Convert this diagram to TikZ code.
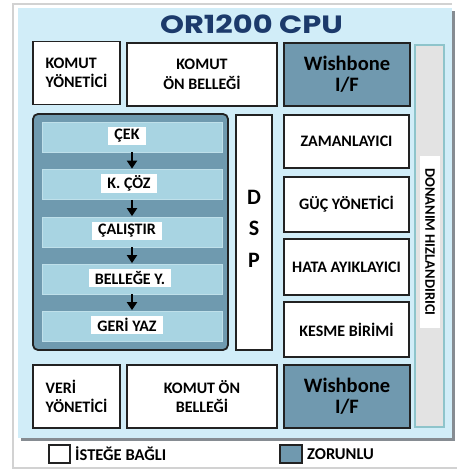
\documentclass[tikz,border=0pt]{standalone}
\usepackage{fontspec}
\setmainfont{Carlito}
\newfontfamily\titlefont{Poppins}
\usetikzlibrary{arrows.meta}
\definecolor{panelc}{HTML}{D1EDF8}
\definecolor{shadowc}{HTML}{868C92}
\definecolor{framec}{HTML}{D2D2D2}
\definecolor{reqc}{HTML}{7099AF}
\definecolor{contc}{HTML}{6F9AAF}
\definecolor{stagec}{HTML}{A8D4E2}
\definecolor{stageline}{HTML}{BFE0EA}
\definecolor{barc}{HTML}{E3E3E3}
\definecolor{barline}{HTML}{8EC4CB}
\definecolor{titlec}{HTML}{1C3A6B}
\definecolor{boxline}{HTML}{222222}
\begin{document}
\begin{tikzpicture}[x=1pt,y=-1pt,
  wbox/.style={draw=boxline, line width=1.8pt, fill=white, align=center, inner sep=0pt,
    font=\fontsize{16}{19.5}\selectfont\bfseries},
  rbox/.style={wbox, fill=reqc, font=\fontsize{20.5}{21}\selectfont\bfseries},
  stagebox/.style={draw=stageline, line width=0.8pt, fill=stagec, minimum width=180pt, minimum height=30pt, inner sep=0pt},
  slabel/.style={fill=white, inner xsep=6pt, inner ysep=0pt, minimum height=18pt,
    font=\fontsize{16}{16}\selectfont\bfseries},
  arr/.style={-{Triangle[width=10pt,length=8pt]}, line width=2.8pt, black, shorten >=0.5pt},
  legtext/.style={anchor=west, inner sep=0pt, font=\fontsize{16.5}{16}\selectfont\bfseries}
]
\useasboundingbox (0,0) rectangle (457,470);
\fill[white] (0,0) rectangle (457,470);
% outer frame
\draw[framec, line width=1.5pt] (452,4) -- (13,4) -- (13,468) -- (457,468);
% panel with shadow
\fill[shadowc] (21,11) rectangle (455,441);
\fill[panelc] (18,8) rectangle (452,438);
% title
\node[text=titlec, inner sep=0pt, font=\fontsize{25}{28}\selectfont\titlefont\bfseries] (title) at (251.5,24) {\scalebox{1.22}[1]{OR1200 CPU}};
% row 1
\node[wbox, minimum width=87pt, minimum height=63pt, align=left] (kyon) at (76.5,73) {KOMUT\\YÖNETİCİ};
\node[wbox, minimum width=150pt, minimum height=63pt] (kon) at (202,74.5) {KOMUT\\ÖN BELLEĞİ};
\node[rbox, minimum width=126pt, minimum height=63pt] (wb1) at (347,74.5) {Wishbone\\I/F};
% hardware accelerator bar
\node[draw=barline, line width=1.2pt, fill=barc, minimum width=29pt, minimum height=382pt, inner sep=0pt] (bar) at (429.5,236) {};
\node[fill=white, rotate=-90, minimum width=171pt, minimum height=20pt, inner sep=0pt,
  font=\fontsize{14.5}{16}\selectfont\bfseries] (dh) at (430,242) {DONANIM HIZLANDIRICI};
% pipeline container
\node[draw=boxline, line width=1.8pt, fill=contc, rounded corners=5pt, minimum width=195pt, minimum height=236pt, inner sep=0pt] (cont) at (130.5,232) {};
\node[stagebox] (s1) at (132,137) {};
\node[stagebox] (s2) at (132,184.5) {};
\node[stagebox] (s3) at (132,232) {};
\node[stagebox] (s4) at (132,279) {};
\node[stagebox] (s5) at (132,326) {};
\node[slabel] (l1) at (127,136) {ÇEK};
\node[slabel] (l2) at (129,183.5) {K. ÇÖZ};
\node[slabel] (l3) at (127,231) {ÇALIŞTIR};
\node[slabel] (l4) at (130,278) {BELLEĞE Y.};
\node[slabel] (l5) at (127,325) {GERİ YAZ};
\draw[arr] (s1.south) -- (s2.north);
\draw[arr] (s2.south) -- (s3.north);
\draw[arr] (s3.south) -- (s4.north);
\draw[arr] (s4.south) -- (s5.north);
% DSP
\node[wbox, minimum width=36pt, minimum height=235pt] (dsp) at (254,232.5) {};
\node[inner sep=0pt, font=\fontsize{22}{24}\selectfont\bfseries] (dd) at (254,197) {D};
\node[inner sep=0pt, font=\fontsize{22}{24}\selectfont\bfseries] (ds) at (254,228.5) {S};
\node[inner sep=0pt, font=\fontsize{22}{24}\selectfont\bfseries] (dp) at (254,260) {P};
% right column
\node[wbox, minimum width=125pt, minimum height=53pt] (zam) at (346.5,141.5) {ZAMANLAYICI};
\node[wbox, minimum width=125pt, minimum height=55pt] (guc) at (346.5,204.5) {GÜÇ YÖNETİCİ};
\node[wbox, minimum width=125pt, minimum height=56pt] (hata) at (346.5,267) {HATA AYIKLAYICI};
\node[wbox, minimum width=125pt, minimum height=55pt] (kesme) at (346.5,329.5) {KESME BİRİMİ};
% bottom row
\node[wbox, minimum width=87pt, minimum height=63pt, align=left] (veri) at (76.5,396.5) {VERİ\\YÖNETİCİ};
\node[wbox, minimum width=150pt, minimum height=63pt] (kon2) at (202,396.5) {KOMUT ÖN\\BELLEĞİ};
\node[rbox, minimum width=126pt, minimum height=63pt] (wb2) at (347,396.5) {Wishbone\\I/F};
% legend
\node[wbox, minimum width=21pt, minimum height=18pt] (sq1) at (59.5,454) {};
\node[legtext] (t1) at (75,454) {İSTEĞE BAĞLI};
\node[wbox, fill=reqc, minimum width=22pt, minimum height=18pt] (sq2) at (291,454) {};
\node[legtext] (t2) at (307,454) {ZORUNLU};
\end{tikzpicture}
\end{document}
